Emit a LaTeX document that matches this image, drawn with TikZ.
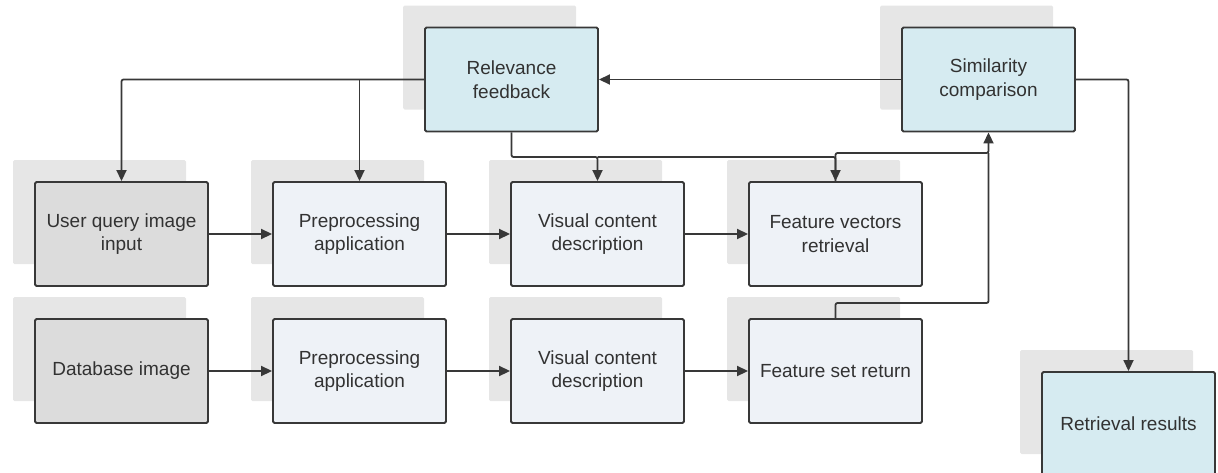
\documentclass[tikz,border=0pt]{standalone}
\usepackage{fontspec}
\setmainfont{Liberation Sans}
\usetikzlibrary{arrows.meta,shadows}

\definecolor{edgegray}{RGB}{56,56,56}
\definecolor{textgray}{RGB}{50,50,50}
\definecolor{shadegray}{RGB}{230,230,230}
\definecolor{bluefill}{RGB}{214,235,241}
\definecolor{palefill}{RGB}{238,242,247}
\definecolor{greyfill}{RGB}{220,220,220}

\tikzset{
  box/.style={draw=edgegray, line width=1.9pt, rounded corners=1.5pt,
    minimum width=173pt, minimum height=104pt, inner sep=0pt,
    align=center, text=textgray,
    font=\fontsize{19}{23.5}\selectfont,
    general shadow={fill=shadegray, draw=none, shadow xshift=-22pt, shadow yshift=22pt}},
  bluebox/.style={box, fill=bluefill},
  palebox/.style={box, fill=palefill},
  greybox/.style={box, fill=greyfill},
  link/.style={draw=edgegray, line width=1.8pt, rounded corners=2pt},
  conn/.style={link, -{Triangle[length=11pt,width=10pt]}}
}

\begin{document}
\begin{tikzpicture}[x=1pt,y=-1pt]
\useasboundingbox (0,0) rectangle (1218,472);
\clip (0,0) rectangle (1218,472);

% top row
\node[bluebox] (rel) at (511.5,79.5) {Relevance\\feedback};
\node[bluebox] (sim) at (988.5,79.5) {Similarity\\comparison};

% query row
\node[greybox] (uq)  at (121.5,234) {User query image\\input};
\node[palebox] (pp1) at (359.5,234) {Preprocessing\\application};
\node[palebox] (vc1) at (597.5,234) {Visual content\\description};
\node[palebox] (fv)  at (835.5,234) {Feature vectors\\retrieval};

% database row
\node[greybox] (db)  at (121.5,371) {Database image};
\node[palebox] (pp2) at (359.5,371) {Preprocessing\\application};
\node[palebox] (vc2) at (597.5,371) {Visual content\\description};
\node[palebox] (fs)  at (835.5,371) {Feature set return};

% result
\node[bluebox] (res) at (1128.5,424) {Retrieval results};

% routing points
\coordinate (j1) at (597.5,157);
\coordinate (k1) at (988.5,153);
\coordinate (k2) at (988.5,303);

% row flows
\draw[conn] (uq) -- (pp1);
\draw[conn] (pp1) -- (vc1);
\draw[conn] (vc1) -- (fv);
\draw[conn] (db) -- (pp2);
\draw[conn] (pp2) -- (vc2);
\draw[conn] (vc2) -- (fs);

% feedback paths
\draw[conn] (rel.west) -| (uq.north);
\draw[conn] (rel.west -| pp1.north) -- (pp1.north);
\draw[conn] (rel.south) |- (j1) -- (vc1.north);
\draw[conn] (j1) -| (fv.north);

% feature paths into comparison
\draw[link] (fs.north) |- (k2) -- (k1);
\draw[conn] (fv.north) |- (k1) -- (sim.south);

% comparison outputs
\draw[conn] (sim.west) -- (rel.east);
\draw[conn] (sim.east) -| (res.north);
\end{tikzpicture}
\end{document}
